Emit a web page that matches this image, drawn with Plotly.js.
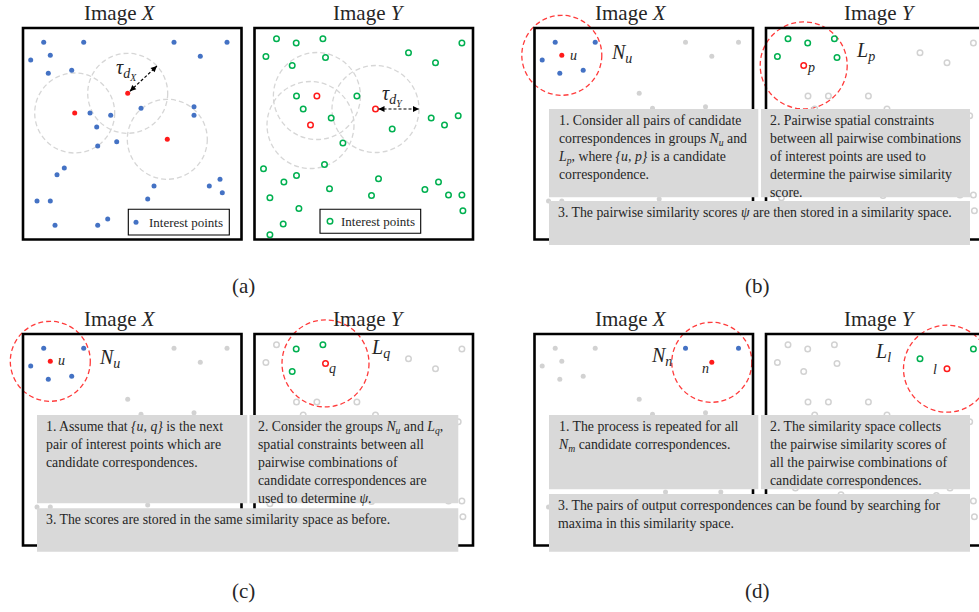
<!DOCTYPE html>
<html><head><meta charset="utf-8">
<script src="https://cdn.plot.ly/plotly-3.0.1.min.js"></script>
<style>html,body{margin:0;padding:0;background:#fff}#chart{width:979px;height:612px}</style>
</head><body><div id="chart"></div>
<script>
// ---------- DATA ----------
// Interest points of Image X (pixel coords inside the image frame)
const ptsX_x = [20.7,60.7,151,204,7.7,27.3,177.3,25.3,48.7,104.7,51.7,67,87.7,118,171,171,73.7,144.3,93.7,74.7,41.3,34,131,186.3,197,199.3,124.7,14,27.3,32,74.7,84.7];
const ptsX_y = [14.3,14.3,14.3,14.3,32,27.3,28.3,45.3,42.3,65.3,85,85,87.3,80.3,78.7,87.3,99,111.3,113.7,118,140,146.7,158,158,151.3,164.7,171,173,173,197.3,197.3,191];
// Interest points of Image Y
const ptsY_x = [22,41.7,68.4,207.4,11.4,71,154,181,37.7,42,62.4,102.4,48.7,121,76.7,56,176.7,190,203.7,137.7,88.4,9,70,42,29.4,124,75,170.4,184,15.4,117,194,207.4,44.4,208.4,28.7,15.4];
const ptsY_y = [10.7,15,10.7,15,28.4,29.4,24.7,34.7,37.4,68,68,68,81,81,90,97,90,97,87.7,101,115,140.7,136.4,147.4,154,150.7,160.7,161.4,154,169.7,167.4,167,167,180.4,182.7,196,206.7];

// highlighted points per panel (indices)
const aX_red = [9,10,17];
const aY_red = [10,13,15];
const bX_red = [5], bX_blue = [0,1,4,7,8];
const bY_red = [8], bY_green = [0,1,2,4,5];
const cX_red = [5], cX_blue = [0,1,4,7,8];
const cY_red = [5], cY_green = [1,2,8];
const dX_red = [6], dX_blue = [2,3];
const dY_red = [7], dY_green = [3,6];

// texts
const titleX = 'Image <i>X</i>';
const titleY = 'Image <i>Y</i>';
const panelLabels = ['(a)','(b)','(c)','(d)'];
const legendText = 'Interest points';
const groupLabels = ['<i>N</i><sub><i>u</i></sub>','<i>L</i><sub><i>p</i></sub>','<i>N</i><sub><i>u</i></sub>','<i>L</i><sub><i>q</i></sub>','<i>N</i><sub><i>n</i></sub>','<i>L</i><sub><i>l</i></sub>'];
const pointLabels = ['<i>u</i>','<i>p</i>','<i>u</i>','<i>q</i>','<i>n</i>','<i>l</i>'];
const tauLabels = ['<i>τ</i><sub><i>d</i><sub><i>X</i></sub></sub>','<i>τ</i><sub><i>d</i><sub><i>Y</i></sub></sub>'];
const boxTexts = [
 '1. Consider all pairs of candidate<br>correspondences in groups <i>N<sub>u</sub></i> and<br><i>L<sub>p</sub></i>, where <i>{u, p}</i> is a candidate<br>correspondence.',
 '2. Pairwise spatial constraints<br>between all pairwise combinations<br>of interest points are used to<br>determine the pairwise similarity<br>score.',
 '3. The pairwise similarity scores <i>ψ</i> are then stored in a similarity space.',
 '1. Assume that <i>{u, q}</i> is the next<br>pair of interest points which are<br>candidate correspondences.',
 '2. Consider the groups <i>N<sub>u</sub></i> and <i>L<sub>q</sub></i>,<br>spatial constraints between all<br>pairwise combinations of<br>candidate correspondences are<br>used to determine <i>ψ</i>.',
 '3. The scores are stored in the same similarity space as before.',
 '1. The process is repeated for all<br><i>N<sub>m</sub></i> candidate correspondences.',
 '2. The similarity space collects<br>the pairwise similarity scores of<br>all the pairwise combinations of<br>candidate correspondences.',
 '3. The pairs of output correspondences can be found by searching for<br>maxima in this similarity space.'
];

// ---------- LAYOUT CONSTANTS ----------
const FONT = '"Liberation Serif", "Times New Roman", Times, serif';
const TXT = '#262626';
const BLUE = '#4472c4', RED = '#ff1a1a', GREEN = '#00b050', GREY = '#d2d2d2';
const FR = {aX:[23,28], aY:[254.5,28], bX:[534.5,28], bY:[766,28], cX:[23,334], cY:[254.5,334], dX:[534.5,334], dY:[766,334]};
const FW = 218.5, FH = 211.5;
const RX = 40, RY = 43.5;
const BOXES = [[549,109,758.3,197.3],[761,109,970,197.3],[549,201,970,245],
               [37,415,247.3,503.3],[249.5,415,458.3,503.3],[37,508.3,458.3,551.7],
               [549,415,758.3,489.3],[761,415,970,489.3],[549,494,970,551.7]];
const LEG = {aX:[128.3,209.3,229.3,235], aY:[320,209.3,420.7,233.3]};

const traces = [];
const shapes = [];
const annotations = [];

function rest(n, ex){ const s = new Set(ex); return [...Array(n).keys()].filter(i => !s.has(i)); }
function pos(fr, xs, ys, i){ return [FR[fr][0] + xs[i], FR[fr][1] + ys[i]]; }
function addPts(fr, xs, ys, idx, open, color){
  const [ox, oy] = FR[fr];
  traces.push({type:'scatter', mode:'markers', hoverinfo:'skip',
    x: idx.map(i => ox + xs[i]), y: idx.map(i => oy + ys[i]),
    marker: open ? {symbol:'circle-open', size:5.5, color:color, line:{width:1.5, color:color}}
                 : {symbol:'circle', size:5, color:color}});
}
function circle(cx, cy, r, color){
  shapes.push({type:'circle', xref:'x', yref:'y', x0:cx-r, x1:cx+r, y0:cy-r, y1:cy+r,
    line:{color:color, width:1.3, dash:'5px,3px'}, layer:'below'});
}
function ann(x, y, text, size, opts){
  annotations.push(Object.assign({x:x, y:y, xref:'x', yref:'y', text:text, showarrow:false,
    font:{family:FONT, size:size, color:TXT}}, opts||{}));
}

const NX = ptsX_x.length, NY = ptsY_x.length;

// panel (a)
addPts('aX', ptsX_x, ptsX_y, rest(NX, aX_red), false, BLUE);
addPts('aX', ptsX_x, ptsX_y, aX_red, false, RED);
addPts('aY', ptsY_x, ptsY_y, rest(NY, aY_red), true, GREEN);
addPts('aY', ptsY_x, ptsY_y, aY_red, true, RED);
aX_red.forEach(i => { const p = pos('aX', ptsX_x, ptsX_y, i); circle(p[0], p[1], RX, '#d6d6d6'); });
aY_red.forEach(i => { const p = pos('aY', ptsY_x, ptsY_y, i); circle(p[0], p[1], RY, '#d6d6d6'); });

// panels b, c, d
const hl = [
  ['bX', bX_blue, bX_red, false], ['bY', bY_green, bY_red, true],
  ['cX', cX_blue, cX_red, false], ['cY', cY_green, cY_red, true],
  ['dX', dX_blue, dX_red, false], ['dY', dY_green, dY_red, true]
];
hl.forEach(([fr, hi, red, isY]) => {
  const xs = isY ? ptsY_x : ptsX_x, ys = isY ? ptsY_y : ptsX_y, n = xs.length;
  addPts(fr, xs, ys, rest(n, hi.concat(red)), isY, GREY);
  addPts(fr, xs, ys, hi, isY, isY ? GREEN : BLUE);
  addPts(fr, xs, ys, red, isY, RED);
  const p = pos(fr, xs, ys, red[0]);
  circle(p[0], p[1], isY ? RY : RX, '#ff3b3b');
});

// frames
Object.keys(FR).forEach(k => {
  const [ox, oy] = FR[k];
  shapes.push({type:'rect', xref:'x', yref:'y', x0:ox, y0:oy, x1:ox+FW, y1:oy+FH,
    line:{color:'#000', width:2.6}, layer:'below'});
});

// text boxes
BOXES.forEach((b, i) => {
  shapes.push({type:'rect', xref:'x', yref:'y', x0:b[0], y0:b[1], x1:b[2], y1:b[3],
    fillcolor:'#d9d9d9', line:{width:0}, layer:'above'});
  ann(b[0] + 6.5, b[1] + 2, boxTexts[i], 13.8, {xanchor:'left', yanchor:'top', align:'left'});
});

// legends in panel (a)
[['aX', false, BLUE], ['aY', true, GREEN]].forEach(([k, open, col]) => {
  const L = LEG[k], my = (L[1] + L[3]) / 2;
  shapes.push({type:'rect', xref:'x', yref:'y', x0:L[0], y0:L[1], x1:L[2], y1:L[3],
    line:{color:'#000', width:1.1}, layer:'below'});
  traces.push({type:'scatter', mode:'markers', hoverinfo:'skip', x:[L[0] + (open ? 10 : 7.7)], y:[my],
    marker: open ? {symbol:'circle-open', size:5.5, color:col, line:{width:1.5, color:col}} : {size:5, color:col}});
  ann(L[0] + 19, my, legendText, 13, {xanchor:'left', yanchor:'middle'});
});

// titles
[['aX',titleX],['aY',titleY],['bX',titleX],['bY',titleY],['cX',titleX],['cY',titleY],['dX',titleX],['dY',titleY]].forEach(([k, t]) => {
  const off = k[1] === 'X' ? -12.5 : 5;
  ann(FR[k][0] + FW/2 + off, FR[k][1] - 15, t, 21, {xanchor:'center', yanchor:'middle'});
});

// panel labels
[[243,286],[757,286],[243,591],[757,591]].forEach((p, i) => ann(p[0], p[1], panelLabels[i], 21, {xanchor:'center', yanchor:'middle'}));

// group labels
[[609,53],[854,51.5],[96.7,358],[369,348],[649.3,356.5],[873.3,352.5]].forEach((p, i) =>
  ann(p[0], p[1], groupLabels[i], 20, {xanchor:'left', yanchor:'middle'}));
// point labels
[[573,55],[810.5,67],[61.3,360.5],[332,368],[705.3,368.5],[935.3,369.5]].forEach((p, i) =>
  ann(p[0], p[1], pointLabels[i], 14, {xanchor:'center', yanchor:'middle'}));

// tau labels
ann(126, 69, tauLabels[0], 20, {xanchor:'center', yanchor:'middle'});
ann(392, 95, tauLabels[1], 20, {xanchor:'center', yanchor:'middle'});

// double arrows (radius indicators)
function dblArrow(cx, cy, ang, r){
  const ux = Math.cos(ang), uy = Math.sin(ang);
  const A = [cx + 3*ux, cy + 3*uy], B = [cx + r*ux, cy + r*uy];
  shapes.push({type:'line', xref:'x', yref:'y', x0:A[0], y0:A[1], x1:B[0], y1:B[1],
    line:{color:'#000', width:1.2, dash:'3px,2px'}, layer:'above'});
  [[B, 1], [A, -1]].forEach(([P, s]) => {
    annotations.push({x:P[0], y:P[1], xref:'x', yref:'y', axref:'x', ayref:'y',
      ax:P[0] - s*6*ux, ay:P[1] - s*6*uy, text:'', showarrow:true, arrowhead:2,
      arrowsize:1, arrowwidth:1.2, arrowcolor:'#000', standoff:0, startstandoff:0});
  });
}
{ const p = pos('aX', ptsX_x, ptsX_y, aX_red[0]); dblArrow(p[0], p[1], -43*Math.PI/180, RX); }
{ const p = pos('aY', ptsY_x, ptsY_y, aY_red[1]); dblArrow(p[0], p[1], 0, RY); }

const layout = {
  width:979, height:612, margin:{l:0, r:0, t:0, b:0},
  paper_bgcolor:'#fff', plot_bgcolor:'#fff', showlegend:false,
  font:{family:FONT},
  xaxis:{range:[0,979], visible:false, fixedrange:true},
  yaxis:{range:[612,0], visible:false, fixedrange:true},
  shapes:shapes, annotations:annotations
};
Plotly.newPlot('chart', traces, layout, {staticPlot:true, displayModeBar:false});
</script></body></html>
